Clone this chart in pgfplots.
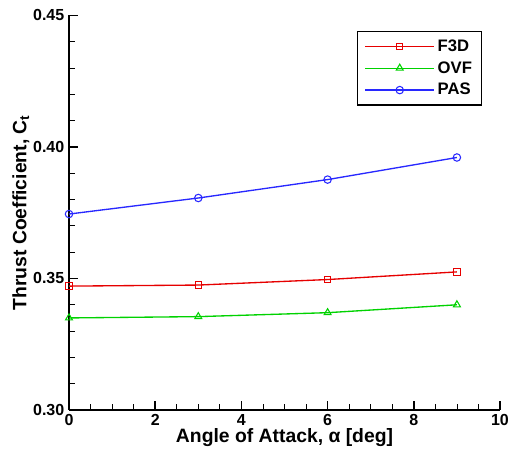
\documentclass[border=0pt]{standalone}
\usepackage{fontspec}
\setmainfont{Liberation Sans}
\usepackage{pgfplots}
\pgfplotsset{compat=1.18}
\definecolor{cred}{RGB}{230,0,0}
\definecolor{cgreen}{RGB}{0,210,0}
\definecolor{cblue}{RGB}{40,40,255}
\begin{document}
\begin{tikzpicture}[x=0.75pt,y=0.75pt]
\useasboundingbox (-69,-42) rectangle (442,410);
\begin{axis}[
  at={(0,0)}, anchor=south west,
  scale only axis,
  width=323.25pt, height=295.9pt,
  xmin=0, xmax=10, ymin=0.30, ymax=0.45,
  axis x line*=bottom, axis y line*=left,
  axis line style={line width=1.5pt,-},
  xtick={0,2,4,6,8,10},
  ytick={0.30,0.35,0.40,0.45},
  minor x tick num=3, minor y tick num=4,
  tick align=inside,
  major tick length=7pt, minor tick length=4.5pt,
  major tick style={line width=1.2pt,black},
  minor tick style={line width=0.6pt,black},
  /pgf/number format/assume math mode=true,
  ticklabel style={font=\bfseries\fontsize{12}{14}\selectfont},
  yticklabel style={/pgf/number format/fixed,/pgf/number format/fixed zerofill,/pgf/number format/precision=2},
  xlabel={\bfseries Angle of Attack, α [deg]},
  ylabel={\bfseries Thrust Coefficient, C\textsubscript{t}},
  label style={font=\bfseries\fontsize{14.5}{16}\selectfont},
  xlabel style={yshift=5pt},
  ylabel style={yshift=-4pt},
  legend cell align=left,
  legend style={at={(1,1)}, anchor=north east, xshift=-13.5pt, yshift=-11.5pt,
    draw=black, line width=1pt, font=\bfseries\fontsize{12.5}{14}\selectfont,
    row sep=2.2pt, inner xsep=5pt, inner ysep=4pt},
  legend image code/.code={\draw[mark repeat=2,mark phase=2,line width=1pt] plot coordinates {(0pt,0pt)(26pt,0pt)(52pt,0pt)};},
]
\addplot[cred, line width=1pt, mark=square, mark size=2.4pt, mark options={line width=0.8pt}] coordinates {(0,0.3471)(3,0.3475)(6,0.3496)(9,0.3525)};
\addlegendentry{F3D}
\addplot[cgreen, line width=1pt, mark=triangle, mark size=3pt, mark options={line width=0.8pt}] coordinates {(0,0.3350)(3,0.3355)(6,0.3370)(9,0.3400)};
\addlegendentry{OVF}
\addplot[cblue, line width=1pt, mark=o, mark size=2.8pt, mark options={line width=0.8pt}] coordinates {(0,0.3745)(3,0.3806)(6,0.3876)(9,0.3960)};
\addlegendentry{PAS}
\end{axis}
\end{tikzpicture}
\end{document}
